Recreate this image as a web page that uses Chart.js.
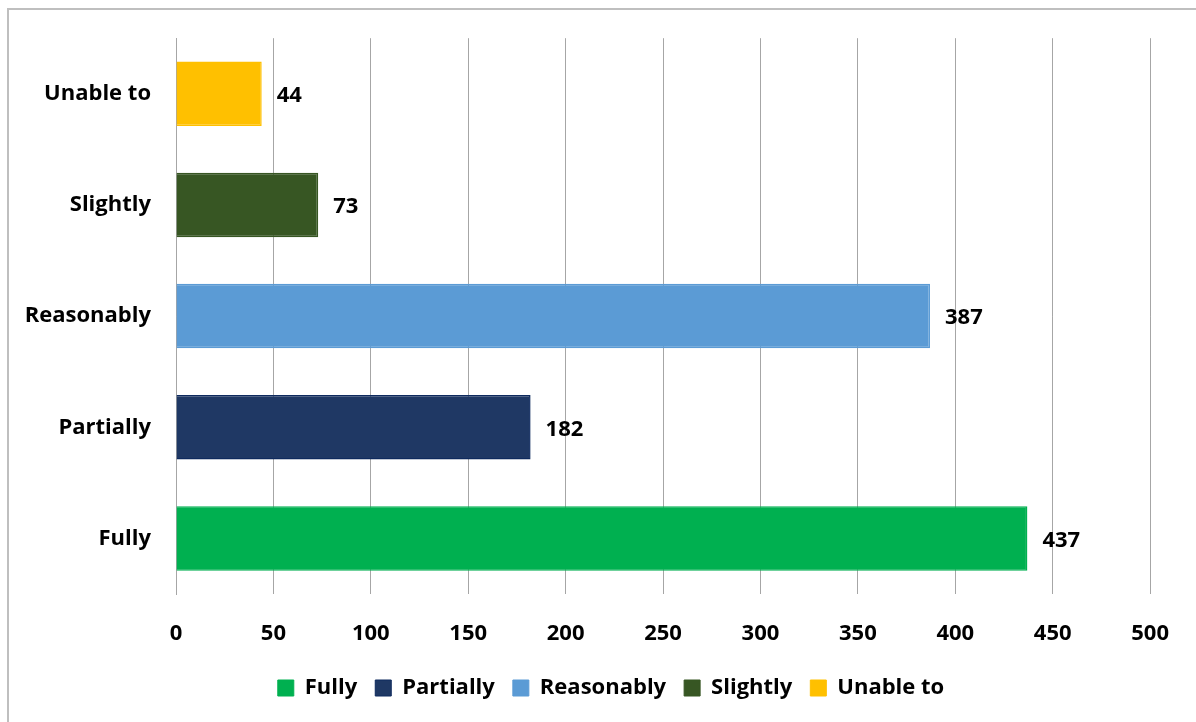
<!DOCTYPE html>
<html>
<head>
<meta charset="utf-8">
<script src="https://cdn.jsdelivr.net/npm/chart.js@4"></script>
<style>
  html, body { margin: 0; padding: 0; background: #fff; overflow: hidden; }
  #wrap { position: relative; width: 1196px; height: 722px; }
  #frame { position: absolute; left: 7px; top: 8px; width: 1200px; height: 730px;
           border: 2px solid #bfbfbf; box-sizing: border-box; }
  canvas { position: absolute; left: 0; top: 0; }
</style>
</head>
<body>
<div id="wrap">
  <div id="frame"></div>
  <canvas id="chart" width="1196" height="722"></canvas>
</div>
<script>
// Categories bottom -> top, as in the legend
const categories = ['Fully', 'Partially', 'Reasonably', 'Slightly', 'Unable to'];
const counts = [437, 182, 387, 73, 44];
const barColors = ['#00B050', '#1F3864', '#5B9BD5', '#375623', '#FFC000'];
const barBorders = ['#00B050', '#0E2A5E', '#5B9BD5', '#375623', '#FFC000'];
const xTicks = [0, 50, 100, 150, 200, 250, 300, 350, 400, 450, 500];

const FONT = "'Open Sans', 'Liberation Sans', sans-serif";

// value labels just past the end of each bar
const valueLabels = {
    id: 'valueLabels',
    afterDatasetsDraw(chart) {
        const ctx = chart.ctx;
        const meta = chart.getDatasetMeta(0);
        ctx.save();
        ctx.font = "bold 22px " + FONT;
        ctx.fillStyle = '#000';
        ctx.textAlign = 'left';
        ctx.textBaseline = 'middle';
        meta.data.forEach((bar, i) => {
            ctx.fillText(String(counts[i]), bar.x + 15, bar.y + 2);
        });
        ctx.restore();
    }
};

// the legend sits centred on the whole frame, not on the plot box
const legendShift = {
    id: 'legendShift',
    afterLayout(chart) {
        if (chart.legend) {
            chart.legend.left += 34;
            chart.legend.right += 34;
        }
    }
};

new Chart(document.getElementById('chart'), {
    type: 'bar',
    data: {
        labels: categories,
        datasets: [{
            data: counts,
            backgroundColor: barColors,
            borderColor: barBorders,
            borderWidth: 1.5,
            barPercentage: 0.58,
            categoryPercentage: 1
        }]
    },
    options: {
        indexAxis: 'y',
        responsive: false,
        animation: false,
        layout: { padding: { top: 38, right: 42, bottom: 13, left: 0 } },
        scales: {
            x: {
                min: 0,
                max: 500,
                afterBuildTicks(scale) {
                    scale.ticks = xTicks.map(v => ({ value: v }));
                },
                afterFit(scale) { scale.height = 65; },
                grid: { color: '#a6a6a6', lineWidth: 1, drawTicks: false },
                border: { display: false },
                ticks: {
                    color: '#000',
                    padding: 27,
                    font: { family: FONT, size: 22, weight: 'bold' }
                }
            },
            y: {
                reverse: true,
                afterFit(scale) { scale.width = 176; },
                grid: { display: false, drawTicks: false },
                border: { display: true, color: '#a6a6a6', width: 1 },
                ticks: {
                    color: '#000',
                    padding: 25,
                    font: { family: FONT, size: 22, weight: 'bold' }
                }
            }
        },
        plugins: {
            tooltip: { enabled: false },
            legend: {
                position: 'bottom',
                labels: {
                    color: '#000',
                    boxWidth: 16,
                    boxHeight: 16,
                    padding: 18,
                    font: { family: FONT, size: 22, weight: 'bold' },
                    generateLabels(chart) {
                        return chart.data.labels.map((l, i) => ({
                            text: l,
                            fillStyle: barColors[i],
                            strokeStyle: barBorders[i],
                            lineWidth: 1,
                            fontColor: '#000',
                            index: i
                        }));
                    }
                }
            }
        }
    },
    plugins: [valueLabels, legendShift]
});
</script>
</body>
</html>
